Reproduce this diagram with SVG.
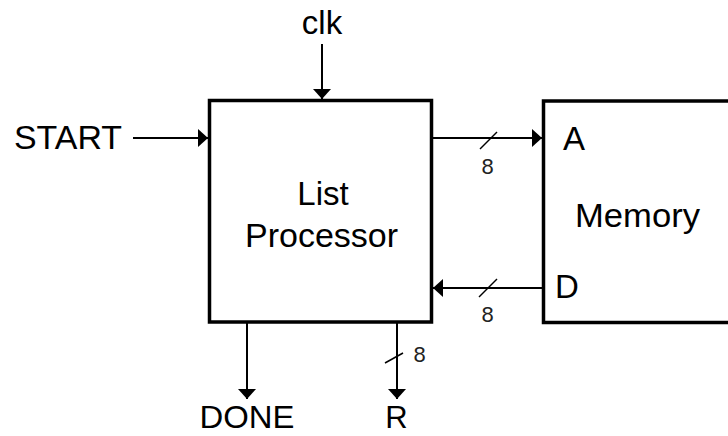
<svg xmlns="http://www.w3.org/2000/svg" width="728" height="436" viewBox="0 0 728 436">
<style>
.box{fill:#fff;stroke:#000;stroke-width:3.5}
.wire{fill:none;stroke:#000;stroke-width:2}
.slash{fill:none;stroke:#000;stroke-width:1.5}
.lbl{font-family:"Liberation Sans",Arial,sans-serif;font-size:33px;fill:#000}
.bot{font-family:"Liberation Sans",Arial,sans-serif;font-size:31px;fill:#000}
.w{font-family:"Liberation Sans",Arial,sans-serif;font-size:22px;fill:#222}
</style>
<defs>
<marker id="arr" viewBox="0 0 10 18" refX="10" refY="9" markerWidth="10" markerHeight="18" orient="auto" markerUnits="userSpaceOnUse">
<path d="M0,0 L10,9 L0,18 z" fill="#000"/>
</marker>
</defs>
<rect width="728" height="436" fill="#fff"/>
<g id="list-processor">
<rect class="box" x="209.5" y="100.5" width="222" height="221.5"/>
<text class="lbl" x="323" y="205" text-anchor="middle">List</text>
<text class="lbl" x="321.5" y="247" text-anchor="middle" textLength="153" lengthAdjust="spacingAndGlyphs">Processor</text>
</g>
<g id="memory">
<rect class="box" x="543.5" y="101" width="200" height="221.5"/>
<text class="lbl" x="575" y="227" textLength="125" lengthAdjust="spacingAndGlyphs">Memory</text>
<text class="lbl" x="563" y="150">A</text>
<text class="lbl" x="555" y="298">D</text>
</g>
<g id="labels">
<text class="lbl" x="322" y="34" text-anchor="middle">clk</text>
<text class="lbl" x="14" y="149" textLength="108" lengthAdjust="spacingAndGlyphs">START</text>
<text class="bot" x="247" y="428" text-anchor="middle" textLength="95" lengthAdjust="spacingAndGlyphs">DONE</text>
<text class="bot" x="396.5" y="428" text-anchor="middle">R</text>
<text class="w" x="487.5" y="174" text-anchor="middle">8</text>
<text class="w" x="487.5" y="322" text-anchor="middle">8</text>
<text class="w" x="419.5" y="362" text-anchor="middle">8</text>
</g>
<g id="connectors">
<path class="wire" d="M322,44 L322,99" marker-end="url(#arr)"/>
<path class="wire" d="M133,138 L208,138" marker-end="url(#arr)"/>
<path class="wire" d="M432,138 L542,138" marker-end="url(#arr)"/>
<path class="wire" d="M543,288 L433,288" marker-end="url(#arr)"/>
<path class="wire" d="M247,323 L247,399" marker-end="url(#arr)"/>
<path class="wire" d="M397,323 L397,399" marker-end="url(#arr)"/>
<path class="slash" d="M480,149 L497,132"/>
<path class="slash" d="M479,297 L497,279"/>
<path class="slash" d="M385,363 L403,353"/>
</g>
</svg>
